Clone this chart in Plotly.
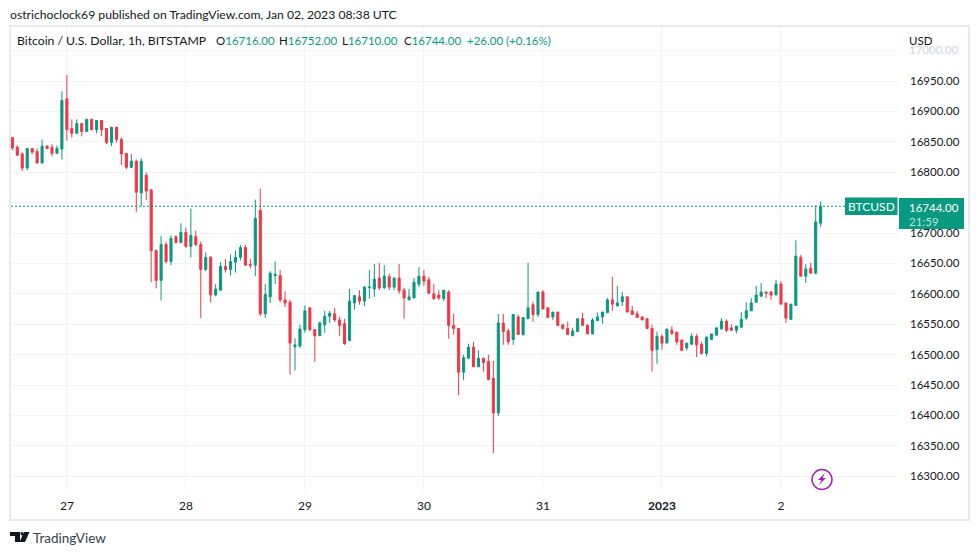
import pandas as pd
import plotly.graph_objects as go

W, H = 979, 555
L, R, T, B = 11, 899, 27, 491  # plot box in page pixels
FONT = "Lato"
DARK = "#131722"
GREEN = "#089981"
RED = "#F23645"
GRID = "#F2F3F7"

opens = [
    16857, 16841, 16830, 16807, 16839, 16834, 16815, 16843, 16841, 16831,
    16838, 16921, 16872, 16864, 16880, 16867, 16887, 16870, 16885, 16872,
    16849, 16874, 16854, 16831, 16808, 16818, 16766, 16795, 16771, 16671,
    16622, 16681, 16653, 16694, 16684, 16701, 16678, 16694, 16681, 16640,
    16660, 16598, 16606, 16645, 16640, 16652, 16660, 16676, 16648, 16647,
    16737, 16567, 16595, 16630, 16630, 16590, 16586, 16513, 16514, 16541,
    16577, 16541, 16531, 16549, 16563, 16567, 16557, 16551, 16523, 16585,
    16595, 16588, 16610, 16608, 16626, 16610, 16628, 16611, 16626, 16606,
    16590, 16593, 16616, 16629, 16623, 16600, 16598, 16592, 16603, 16548,
    16543, 16471, 16494, 16512, 16480, 16494, 16489, 16461, 16404, 16552,
    16539, 16525, 16562, 16533, 16559, 16582, 16566, 16603, 16577, 16562,
    16570, 16549, 16543, 16531, 16538, 16559, 16548, 16534, 16556, 16562,
    16569, 16590, 16580, 16587, 16595, 16572, 16567, 16562, 16559, 16543,
    16508, 16530, 16519, 16540, 16537, 16524, 16511, 16517, 16530, 16517,
    16502, 16525, 16532, 16542, 16555, 16544, 16540, 16545, 16560, 16572,
    16586, 16596, 16603, 16603, 16598, 16616, 16585, 16558, 16581, 16660,
    16629, 16642, 16634, 16716,
]
highs = [
    16857, 16844, 16833, 16839, 16839, 16839, 16854, 16844, 16846, 16844,
    16933, 16960, 16887, 16887, 16880, 16887, 16888, 16885, 16885, 16872,
    16874, 16874, 16857, 16831, 16830, 16821, 16823, 16800, 16772, 16673,
    16695, 16686, 16696, 16696, 16716, 16709, 16740, 16704, 16686, 16668,
    16662, 16616, 16652, 16657, 16665, 16671, 16680, 16680, 16658, 16755,
    16773, 16616, 16637, 16653, 16639, 16604, 16590, 16527, 16549, 16581,
    16577, 16541, 16554, 16572, 16572, 16577, 16562, 16559, 16608, 16597,
    16606, 16613, 16639, 16649, 16651, 16647, 16633, 16626, 16649, 16610,
    16608, 16626, 16644, 16639, 16628, 16616, 16606, 16606, 16606, 16567,
    16543, 16500, 16518, 16521, 16507, 16495, 16500, 16490, 16567, 16567,
    16543, 16566, 16566, 16561, 16651, 16587, 16603, 16606, 16577, 16570,
    16570, 16549, 16554, 16544, 16559, 16569, 16550, 16560, 16569, 16570,
    16593, 16628, 16613, 16603, 16595, 16580, 16572, 16562, 16559, 16549,
    16538, 16533, 16542, 16547, 16537, 16524, 16519, 16535, 16534, 16521,
    16529, 16534, 16544, 16560, 16558, 16550, 16547, 16570, 16586, 16593,
    16613, 16618, 16603, 16604, 16623, 16621, 16585, 16583, 16688, 16664,
    16649, 16651, 16746, 16752,
]
lows = [
    16836, 16828, 16802, 16803, 16830, 16815, 16815, 16838, 16826, 16831,
    16821, 16852, 16857, 16864, 16859, 16867, 16870, 16864, 16859, 16846,
    16843, 16849, 16812, 16805, 16808, 16735, 16744, 16754, 16619, 16609,
    16589, 16650, 16647, 16683, 16684, 16676, 16660, 16678, 16560, 16637,
    16586, 16596, 16606, 16635, 16630, 16635, 16655, 16647, 16642, 16629,
    16563, 16560, 16585, 16616, 16586, 16578, 16467, 16474, 16511, 16536,
    16539, 16488, 16531, 16536, 16552, 16554, 16531, 16516, 16523, 16574,
    16582, 16580, 16592, 16595, 16606, 16608, 16606, 16606, 16600, 16559,
    16590, 16593, 16611, 16613, 16600, 16590, 16590, 16588, 16526, 16533,
    16433, 16458, 16494, 16480, 16480, 16472, 16458, 16338, 16399, 16516,
    16516, 16516, 16533, 16531, 16559, 16554, 16562, 16575, 16561, 16557,
    16548, 16541, 16533, 16531, 16538, 16548, 16534, 16534, 16556, 16551,
    16569, 16572, 16580, 16580, 16570, 16566, 16561, 16557, 16543, 16472,
    16485, 16508, 16519, 16532, 16516, 16507, 16507, 16517, 16496, 16500,
    16497, 16524, 16532, 16542, 16537, 16540, 16535, 16545, 16557, 16572,
    16586, 16595, 16593, 16590, 16598, 16583, 16552, 16557, 16581, 16629,
    16618, 16634, 16632, 16710,
]
closes = [
    16840, 16828, 16807, 16839, 16833, 16815, 16843, 16839, 16831, 16839,
    16918, 16870, 16864, 16880, 16867, 16887, 16870, 16885, 16870, 16849,
    16874, 16854, 16830, 16808, 16818, 16767, 16818, 16769, 16671, 16622,
    16681, 16653, 16691, 16684, 16701, 16678, 16696, 16681, 16640, 16660,
    16598, 16608, 16645, 16640, 16653, 16660, 16676, 16647, 16647, 16724,
    16567, 16599, 16634, 16632, 16590, 16585, 16519, 16516, 16542, 16572,
    16541, 16531, 16552, 16563, 16568, 16557, 16548, 16518, 16588, 16597,
    16588, 16611, 16611, 16624, 16610, 16629, 16611, 16626, 16605, 16593,
    16595, 16619, 16629, 16621, 16601, 16592, 16593, 16606, 16548, 16543,
    16471, 16495, 16512, 16480, 16494, 16487, 16459, 16404, 16552, 16538,
    16521, 16566, 16533, 16561, 16577, 16566, 16603, 16575, 16561, 16570,
    16548, 16543, 16533, 16539, 16559, 16548, 16534, 16557, 16562, 16570,
    16590, 16583, 16585, 16595, 16570, 16566, 16561, 16557, 16543, 16507,
    16530, 16519, 16542, 16535, 16521, 16507, 16519, 16530, 16516, 16502,
    16529, 16534, 16544, 16555, 16540, 16540, 16547, 16558, 16572, 16585,
    16598, 16603, 16601, 16598, 16616, 16583, 16560, 16583, 16662, 16629,
    16641, 16634, 16718, 16744,
]
day_ticks = ["2022-12-27", "2022-12-28", "2022-12-29", "2022-12-30", "2022-12-31", "2023-01-01", "2023-01-02"]
day_labels = ["27", "28", "29", "30", "31", "<b>2023</b>", "2"]
price_ticks = [16300, 16350, 16400, 16450, 16500, 16550, 16600, 16650, 16700, 16800, 16850, 16900, 16950]
last_price = 16744

times = pd.date_range("2022-12-26 13:00", periods=len(opens), freq="h")


def px(x):
    return (x - L) / (R - L)


def py(y):
    return (B - y) / (B - T)


def label(fig, x, y, text, color=DARK, size=12, anchor="left"):
    fig.add_annotation(xref="paper", yref="paper", x=px(x), y=py(y), text=text, showarrow=False,
                       xanchor=anchor, yanchor="middle", font=dict(family=FONT, size=size, color=color),
                       borderpad=0, borderwidth=0)


def box(fig, x0, y0, x1, y1, **kw):
    fig.add_shape(type="rect", xref="paper", yref="paper", x0=px(x0), x1=px(x1), y0=py(y0), y1=py(y1),
                  layer="above", **kw)


def poly(fig, points, color):
    path = "M" + " L".join(f"{px(a):.5f},{py(b):.5f}" for a, b in points) + " Z"
    fig.add_shape(type="path", xref="paper", yref="paper", path=path, fillcolor=color,
                  line=dict(width=0), layer="above")


def price_line(fig, y, x1, color, dash="solid", layer="below"):
    fig.add_shape(type="line", xref="paper", yref="y", x0=0, x1=px(x1), y0=y, y1=y,
                  line_color=color, line_width=1, line_dash=dash, layer=layer)


fig = go.Figure(go.Candlestick(
    x=times, open=opens, high=highs, low=lows, close=closes,
    increasing=dict(line=dict(color=GREEN, width=1), fillcolor=GREEN),
    decreasing=dict(line=dict(color=RED, width=1), fillcolor=RED),
    showlegend=False,
))

fig.update_layout(
    width=W, height=H, autosize=False,
    margin=dict(l=L, r=W - R, t=T, b=H - B),
    paper_bgcolor="white", plot_bgcolor="white",
    font=dict(family=FONT, size=12, color=DARK),
    boxgap=0.4, boxgroupgap=0.3,
)
fig.update_xaxes(
    rangeslider_visible=False,
    range=[times[0] - pd.Timedelta(minutes=16), times[0] + pd.Timedelta(minutes=int(178.8 * 60))],
    tickmode="array", tickvals=day_ticks, ticktext=day_labels,
    showgrid=True, gridcolor=GRID, gridwidth=1, zeroline=False, showline=False,
    ticks="", ticklabelstandoff=6, tickfont=dict(family=FONT, size=12, color=DARK),
)
fig.update_yaxes(
    side="right", range=[16275.65, 17038.85],
    tickmode="array", tickvals=price_ticks, ticktext=[f"{v:.2f}" for v in price_ticks],
    showgrid=True, gridcolor=GRID, gridwidth=1, zeroline=False, showline=False,
    ticks="", ticklabelstandoff=10, tickfont=dict(family=FONT, size=11.5, color=DARK),
)

# gridlines the tick list leaves out
price_line(fig, 17000, R, GRID)
price_line(fig, 16750, R, GRID)
# last price line
price_line(fig, last_price, 845, GREEN, "2px,2px", "above")

# outer frame
box(fig, 10, 26, 969, 520, line=dict(color="#E9EAF1", width=2), fillcolor="rgba(0,0,0,0)")

# last price tags
box(fig, 845, 197.5, 897.5, 215, line=dict(width=0), fillcolor=GREEN)
box(fig, 899, 198, 964, 229, line=dict(width=0), fillcolor=GREEN)
label(fig, 871, 206.5, "BTCUSD", "white", 12, "center")
label(fig, 909, 207, f"{last_price:.2f}", "white", 11.5)
label(fig, 909, 221, "21:59", "#BFE3DC", 11.5)

# header and legend row
label(fig, 10, 15, "ostrichoclock69 published on TradingView.com, Jan 02, 2023 08:38 UTC", DARK, 12.2)
label(fig, 17, 41, "Bitcoin / U.S. Dollar, 1h, BITSTAMP", DARK, 12.2)
label(fig, 216, 41, f'O<span style="color:{GREEN}">16716.00</span>', DARK, 11.5)
label(fig, 279, 41, f'H<span style="color:{GREEN}">16752.00</span>', DARK, 11.5)
label(fig, 342, 41, f'L<span style="color:{GREEN}">16710.00</span>', DARK, 11.5)
label(fig, 404, 41, f'C<span style="color:{GREEN}">16744.00</span>', DARK, 11.5)
label(fig, 467, 41, "+26.00 (+0.16%)", GREEN, 11.5)
label(fig, 909, 41, "USD", DARK, 11.5)
label(fig, 909, 50, "17000.00", "#D4D5DA", 11.5)

# bolt badge
fig.add_shape(type="circle", xref="paper", yref="paper", x0=px(812), x1=px(832), y0=py(469.5), y1=py(489.5),
              line=dict(color="#9C27B0", width=1.5), fillcolor="white", layer="above")
poly(fig, [(825, 473), (818, 480), (821.5, 480), (819, 485), (826, 478), (822.5, 478)], "#9C27B0")

# TradingView logo
poly(fig, [(10, 532), (20, 532), (20, 542), (15, 542), (15, 536), (10, 536)], DARK)
poly(fig, [(24, 532), (29.5, 532), (25, 542), (19.5, 542)], DARK)
fig.add_shape(type="circle", xref="paper", yref="paper", x0=px(20.5), x1=px(23.5), y0=py(532), y1=py(535.5),
              line=dict(width=0), fillcolor=DARK, layer="above")
label(fig, 33, 537.5, "TradingView", "#3A3E4A", 13.5)

fig.write_html("out.html", config={"displayModeBar": False},
               post_script="document.body.style.margin='0';")
